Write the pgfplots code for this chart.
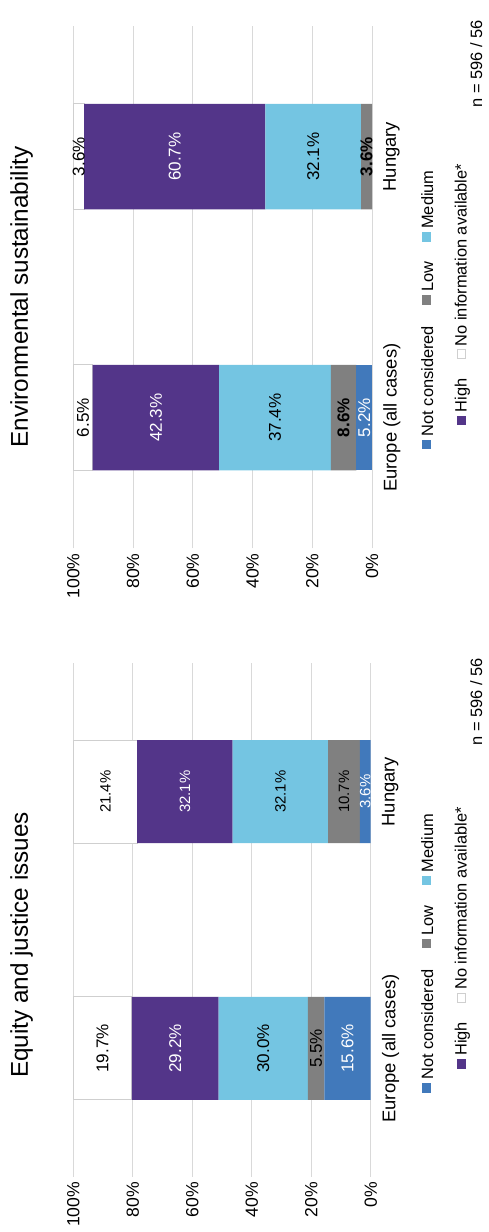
\documentclass[border=0pt]{standalone}
\usepackage{pgfplots}
\pgfplotsset{compat=1.18}
\usepackage{fontspec}
\setmainfont{Liberation Sans}
\definecolor{cNC}{RGB}{65,121,187}
\definecolor{cLow}{RGB}{128,128,128}
\definecolor{cMed}{RGB}{116,197,226}
\definecolor{cHigh}{RGB}{83,53,137}
\definecolor{cNoBorder}{RGB}{207,207,207}
\definecolor{cGrid}{RGB}{217,217,217}

\pgfplotsset{
  barbase/.style={
    scale only axis, xbar stacked, xmin=0, xmax=100, x dir=reverse,
    ymin=-0.5, ymax=1.5, ytick={0,1}, yticklabels={Europe (all cases),Hungary},
    yticklabel pos=right,
    xtick={0,20,40,60,80,100}, xticklabels={0\%,20\%,40\%,60\%,80\%,100\%},
    xmajorgrids, major grid style={draw=cGrid, line width=0.75pt},
    axis line style={draw=none}, major tick length=0pt,
    xticklabel style={rotate=90, anchor=east, inner sep=3.7pt, font=\fontsize{13.2}{15}\selectfont},
    yticklabel style={rotate=90, anchor=north, inner sep=8.3pt, font=\fontsize{13.8}{16}\selectfont},
    clip=false,
  },
  labbase/.style={scale only axis, xmin=0, xmax=100, x dir=reverse,
    ymin=-0.5, ymax=1.5, hide axis, clip=false,
    nodes near coords={\pgfplotspointmeta}},
  lab/.style={draw=none, mark=none, nodes near coords, point meta=explicit symbolic,
    every node near coord/.append style={rotate=90, anchor=center, inner sep=0pt, #1}},
}

\newcommand\legfont{\fontsize{12.3}{14}\selectfont}
\newcommand\fbig{\fontsize{12.8}{15}\selectfont}
\newcommand\fsmall{\fontsize{11.2}{13}\selectfont}
\newcommand\legendset[1]{%
  \fill[cNC] (421.8,{439.5+#1}) rectangle (431.3,{449+#1});
  \node[rotate=90,anchor=base west,inner sep=0pt,font=\legfont] at (433,{436.5+#1}) {Not considered};
  \fill[cLow] (421.8,{295+#1}) rectangle (431.3,{304.5+#1});
  \node[rotate=90,anchor=base west,inner sep=0pt,font=\legfont] at (433,{292+#1}) {Low};
  \fill[cMed] (421.8,{232+#1}) rectangle (431.3,{241.5+#1});
  \node[rotate=90,anchor=base west,inner sep=0pt,font=\legfont] at (433,{229+#1}) {Medium};
  \fill[cHigh] (456.8,{415.5+#1}) rectangle (466.3,{425+#1});
  \node[rotate=90,anchor=base west,inner sep=0pt,font=\legfont] at (466.7,{412.5+#1}) {High};
  \draw[cNoBorder, fill=white, line width=0.75pt] (457.2,{349.9+#1}) rectangle (465.9,{358.6+#1});
  \node[rotate=90,anchor=base west,inner sep=0pt,font=\legfont] at (466.7,{346.5+#1}) {No information available*};
}

\begin{document}
\begin{tikzpicture}
\begin{scope}[x=0.75pt, y=-0.75pt]
  \path[use as bounding box] (0,0) rectangle (489,1232);
\end{scope}

% ---------- Environmental sustainability (top of page) ----------
\begin{axis}[barbase, at={(54.975pt,-411.225pt)}, anchor=south west,
  width=224.025pt, height=391.725pt, bar width=79.125pt]
  \addplot[fill=cNC, draw=none] coordinates {(5.2,0) (0,1)};
  \addplot[fill=cLow, draw=none] coordinates {(8.6,0) (3.6,1)};
  \addplot[fill=cMed, draw=none] coordinates {(37.4,0) (32.1,1)};
  \addplot[fill=cHigh, draw=none] coordinates {(42.3,0) (60.7,1)};
  \addplot[fill=white, draw=cNoBorder, line width=0.75pt] coordinates {(6.5,0) (3.6,1)};
\end{axis}
\begin{axis}[labbase, at={(54.975pt,-411.225pt)}, anchor=south west,
  width=224.025pt, height=391.725pt,
  nodes near coords style={font=\fbig}]
  \addplot[lab={text=white}] coordinates {(2.6,0) [5.2\%]};
  \addplot[lab={text=black, font=\fbig\bfseries}] coordinates {(9.5,0) [8.6\%] (1.8,1) [3.6\%]};
  \addplot[lab={text=black}] coordinates {(32.5,0) [37.4\%] (19.65,1) [32.1\%]};
  \addplot[lab={text=white}] coordinates {(72.35,0) [42.3\%] (66.05,1) [60.7\%]};
  \addplot[lab={text=black}] coordinates {(96.75,0) [6.5\%] (98.2,1) [3.6\%]};
\end{axis}

% ---------- Equity and justice issues (bottom of page) ----------
\begin{axis}[barbase, at={(54.975pt,-882.525pt)}, anchor=south west,
  width=223.05pt, height=385.05pt, bar width=77.25pt]
  \addplot[fill=cNC, draw=none] coordinates {(15.6,0) (3.6,1)};
  \addplot[fill=cLow, draw=none] coordinates {(5.5,0) (10.7,1)};
  \addplot[fill=cMed, draw=none] coordinates {(30.0,0) (32.1,1)};
  \addplot[fill=cHigh, draw=none] coordinates {(29.2,0) (32.1,1)};
  \addplot[fill=white, draw=cNoBorder, line width=0.75pt] coordinates {(19.7,0) (21.4,1)};
\end{axis}
\begin{axis}[labbase, at={(54.975pt,-882.525pt)}, anchor=south west,
  width=223.05pt, height=385.05pt]
  % Europe (all cases)
  \addplot[lab={text=white, font=\fbig}] coordinates {(7.8,0) [15.6\%]};
  \addplot[lab={text=black, font=\fbig}] coordinates {(18.35,0) [5.5\%]};
  \addplot[lab={text=black, font=\fbig}] coordinates {(36.1,0) [30.0\%]};
  \addplot[lab={text=white, font=\fbig}] coordinates {(65.7,0) [29.2\%]};
  \addplot[lab={text=black, font=\fbig}] coordinates {(90.15,0) [19.7\%]};
  % Hungary
  \addplot[lab={text=white, font=\fsmall}] coordinates {(1.8,1) [3.6\%]};
  \addplot[lab={text=black, font=\fsmall}] coordinates {(8.95,1) [10.7\%]};
  \addplot[lab={text=black, font=\fsmall}] coordinates {(30.35,1) [32.1\%]};
  \addplot[lab={text=white, font=\fsmall}] coordinates {(62.45,1) [32.1\%]};
  \addplot[lab={text=black, font=\fsmall}] coordinates {(89.2,1) [21.4\%]};
\end{axis}

\begin{scope}[x=0.75pt, y=-0.75pt]
  \node[rotate=90, anchor=north, inner sep=0pt, font=\fontsize{18.2}{22}\selectfont] at (10,297) {Environmental sustainability};
  \node[rotate=90, anchor=north, inner sep=0pt, font=\fontsize{18.2}{22}\selectfont] at (10,945) {Equity and justice issues};
  \node[rotate=90, anchor=north, inner sep=0pt, font=\fontsize{12.3}{14}\selectfont] at (470,64) {n = 596 / 56};
  \node[rotate=90, anchor=north, inner sep=0pt, font=\fontsize{12.3}{14}\selectfont] at (470,702) {n = 596 / 56};
  \legendset{0}
  \legendset{643.5}
\end{scope}
\end{tikzpicture}
\end{document}
